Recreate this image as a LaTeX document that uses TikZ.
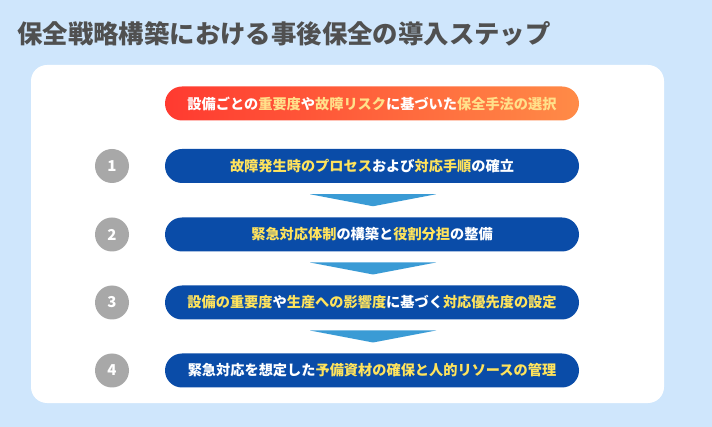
\documentclass[tikz,border=0pt]{standalone}
\usepackage{fontspec}
\setmainfont{Noto Sans CJK JP}
\usetikzlibrary{calc}
\definecolor{bgblue}{HTML}{CFE6FC}
\definecolor{titlegray}{HTML}{505050}
\definecolor{barblue}{HTML}{0A4CA8}
\definecolor{hl}{HTML}{FFE35C}
\definecolor{hlo}{HTML}{FFE08A}
\definecolor{gradl}{HTML}{FF3A30}
\definecolor{gradr}{HTML}{FF8B47}
\definecolor{arrowblue}{HTML}{3A9BD5}
\definecolor{circgray}{HTML}{A8A8A8}
\newcommand{\Y}[1]{\textcolor{hl}{#1}}
\newcommand{\YO}[1]{\textcolor{hlo}{#1}}
\tikzset{
  bar/.style={rectangle, rounded corners=17pt, minimum width=414pt, minimum height=34pt,
    inner sep=0pt, text=white, font=\bfseries\fontsize{14.2pt}{16pt}\selectfont},
  stepbar/.style={bar, fill=barblue},
  topbar/.style={bar, left color=gradl, right color=gradr},
  numcirc/.style={circle, fill=circgray, minimum size=34pt, inner sep=0pt, text=white,
    font=\bfseries\fontsize{15pt}{17pt}\selectfont},
  downarrow/.style={fill=arrowblue}
}
\begin{document}
\begin{tikzpicture}[x=1pt,y=-1pt]
\fill[bgblue] (0,0) rectangle (712,427);
\useasboundingbox (0,0) rectangle (712,427);
\node[anchor=west, inner sep=0pt, text=titlegray, font=\bfseries\fontsize{25.4pt}{28pt}\selectfont] (title) at (17,34) {保全戦略構築における事後保全の導入ステップ};
\fill[white, rounded corners=16pt] (31,65) rectangle (664,403);
\node[topbar] (top) at (372,103.5) {設備ごとの\YO{重要度}や\YO{故障リスク}に基づいた\YO{保全手法の選択}};
\node[stepbar] (s1) at (372,166) {\Y{故障発生時のプロセス}および\Y{対応手順}の確立};
\node[stepbar] (s2) at (372,234.5) {\Y{緊急対応体制}の構築と\Y{役割分担}の整備};
\node[stepbar] (s3) at (372,302.5) {\Y{設備の重要度}や\Y{生産への影響度}に基づく\Y{対応優先度の設定}};
\node[stepbar] (s4) at (372,370.5) {緊急対応を想定した\Y{予備資材の確保と人的リソースの管理}};
\node[numcirc] (c1) at (112,166) {1};
\node[numcirc] (c2) at (112,234.5) {2};
\node[numcirc] (c3) at (112,302.5) {3};
\node[numcirc] (c4) at (112,370.5) {4};
\foreach \a/\b in {s1/s2, s2/s3, s3/s4}{
  \path let \p1=(\a.south), \p2=(\b.north) in
    coordinate (m) at ($(\p1)!0.5!(\p2)$);
  \fill[downarrow] ($(m)+(-62,-6)$) -- ($(m)+(64,-6)$) -- ($(m)+(1,6)$) -- cycle;
}
\end{tikzpicture}
\end{document}
